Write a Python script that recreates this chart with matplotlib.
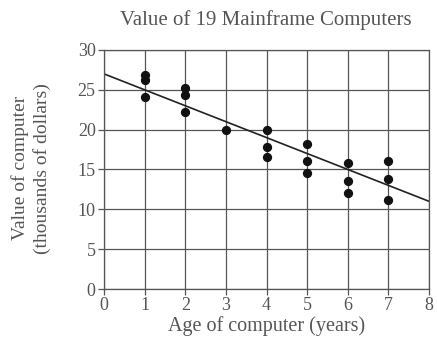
import matplotlib.pyplot as plt

# Age (years) and value (thousands of dollars) of 19 mainframe computers
ages = [1, 1, 1, 2, 2, 2, 3, 4, 4, 4, 5, 5, 5, 6, 6, 6, 7, 7, 7]
values = [26.9, 26.2, 24.1, 25.2, 24.3, 22.2, 20.0, 20.0, 17.8, 16.6,
          18.2, 16.1, 14.6, 15.8, 13.6, 12.1, 16.1, 13.8, 11.2]

# Fitted trend line
intercept = 27.0
slope = -2.0

x_ticks = [0, 1, 2, 3, 4, 5, 6, 7, 8]
y_ticks = [0, 5, 10, 15, 20, 25, 30]

ink = '#555555'
plt.rcParams['font.family'] = ['Liberation Serif', 'DejaVu Serif']

fig = plt.figure(figsize=(4.37, 3.40), dpi=100)
ax = fig.add_axes([0.238, 0.15, 0.744, 0.703])

ax.set_xlim(0, 8)
ax.set_ylim(0, 30)
ax.set_xticks(x_ticks)
ax.set_yticks(y_ticks)
ax.grid(True, color='#555555', linewidth=0.9)
ax.set_axisbelow(True)

for s in ax.spines.values():
    s.set_color('#555555')
    s.set_linewidth(0.9)

ax.tick_params(direction='out', length=4, width=0.9, color='#555555',
               labelsize=13, labelcolor=ink, pad=2)

ax.plot([0, 8], [intercept, intercept + slope * 8], color='#222222', linewidth=1.2)
ax.scatter(ages, values, s=32, color='#111111', zorder=3)

fig.text(0.608, 0.941, 'Value of 19 Mainframe Computers', ha='center', va='center',
         fontsize=15, color=ink)
ax.set_xlabel('Age of computer (years)', fontsize=14.5, color=ink, labelpad=1)
fig.text(0.046, 0.505, 'Value of computer', rotation=90, ha='center', va='center',
         fontsize=14, color=ink)
fig.text(0.096, 0.505, '(thousands of dollars)', rotation=90, ha='center', va='center',
         fontsize=14, color=ink)

fig.savefig('out.png', dpi=100)
